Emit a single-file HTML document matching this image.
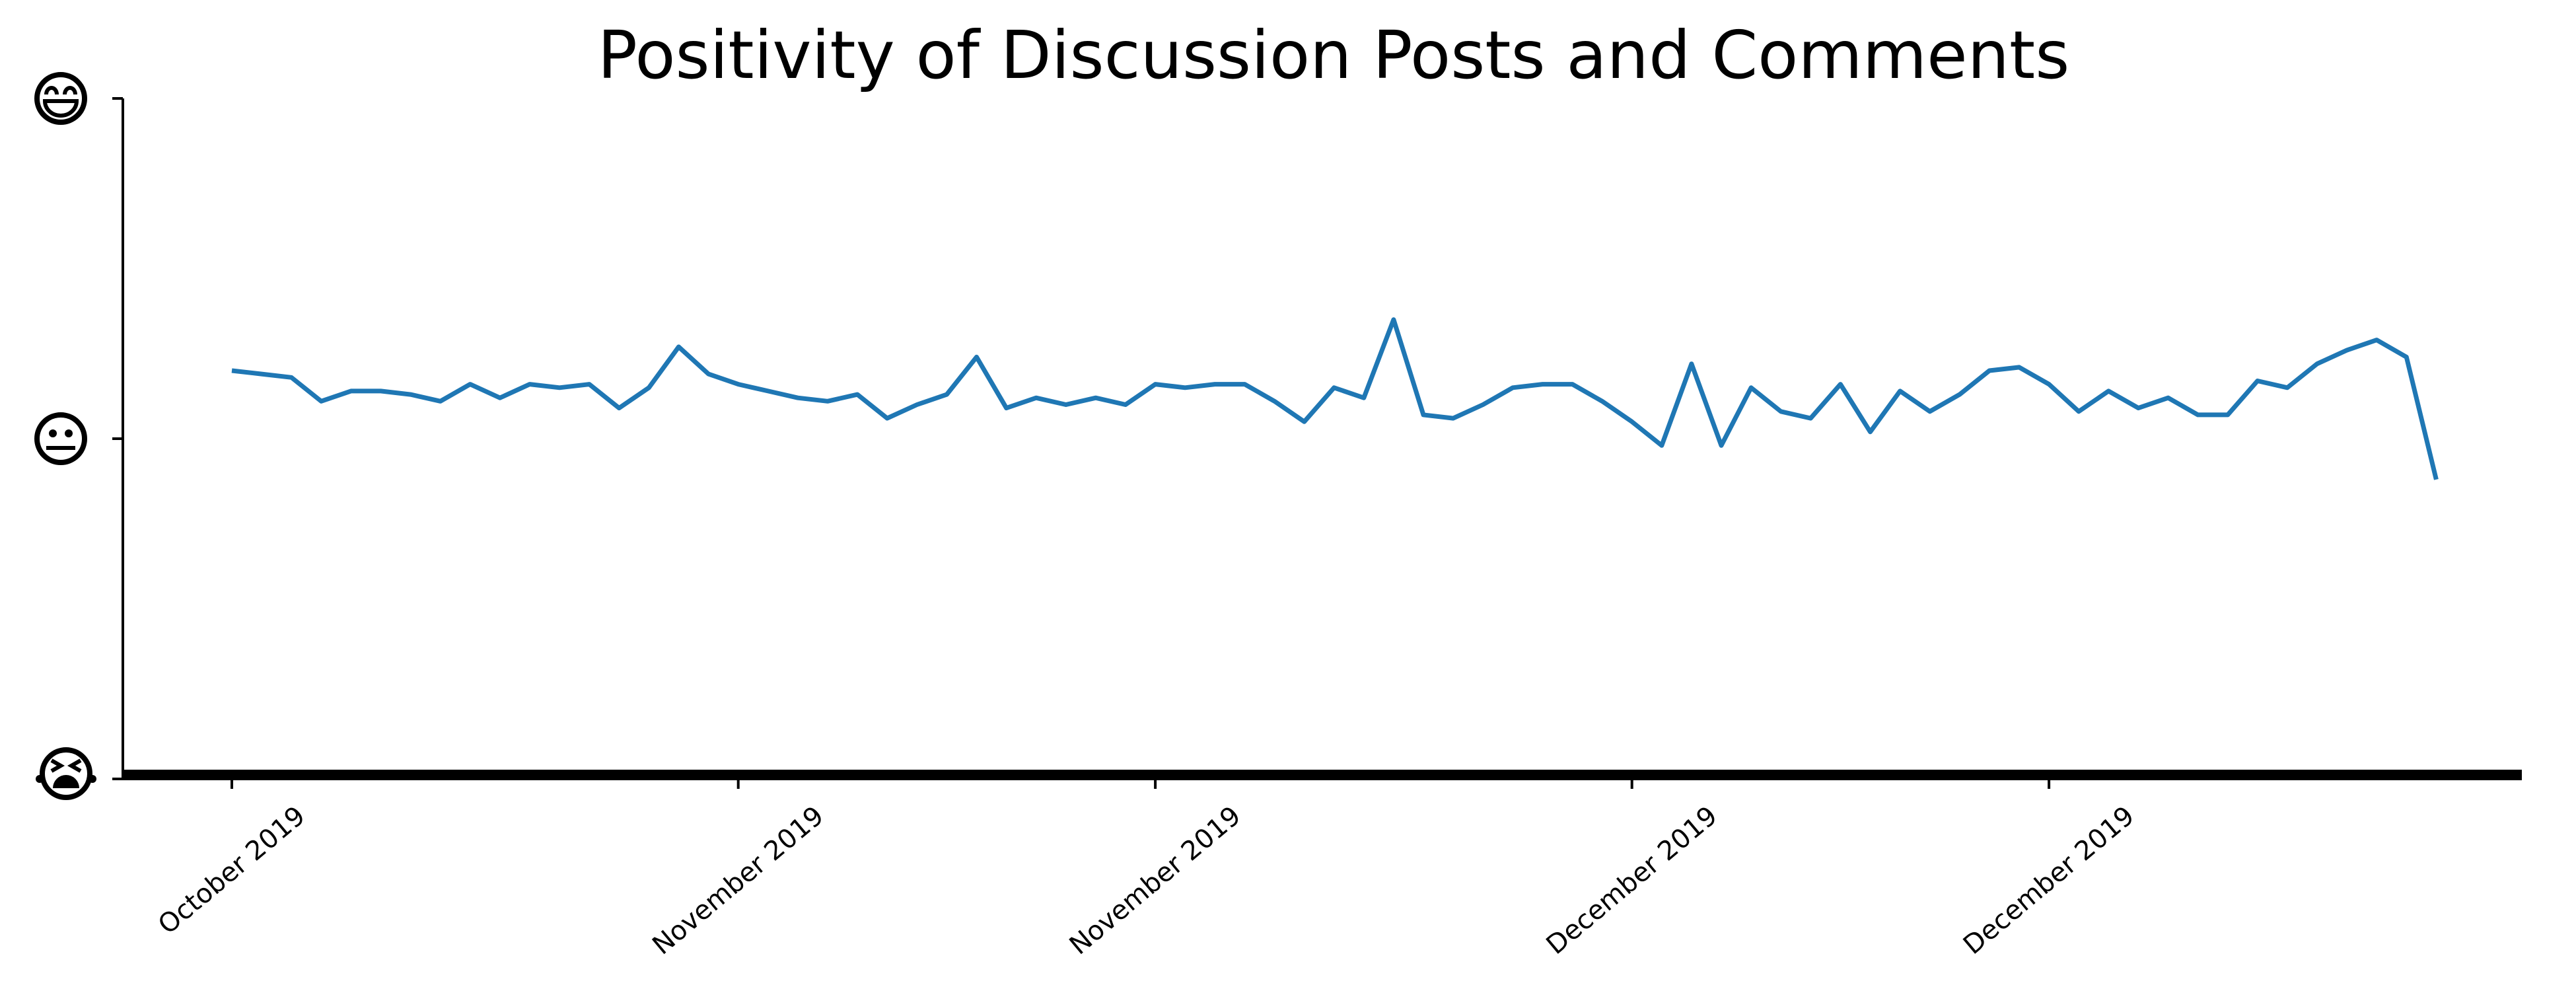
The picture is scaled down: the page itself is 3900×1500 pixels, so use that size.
<!DOCTYPE html>
<html><head><meta charset="utf-8"><style>
html,body{margin:0;padding:0;background:#fff;}
svg{display:block;font-family:"DejaVu Sans","Liberation Sans",sans-serif;}
</style></head><body>
<svg id="chart" width="3900" height="1500" viewBox="0 0 3900 1500" xmlns="http://www.w3.org/2000/svg">
<rect width="3900" height="1500" fill="#fff"/>
<text x="2019" y="118" font-size="100" text-anchor="middle" fill="#000">Positivity of Discussion Posts and Comments</text>
<g id="plot"></g>
</svg>
<script>
const values = [0.20,0.19,0.18,0.11,0.14,0.14,0.13,0.11,0.16,0.12,0.16,0.15,0.16,0.09,0.15,0.27,0.19,0.16,0.14,0.12,0.11,0.13,0.06,0.10,0.13,0.24,0.09,0.12,0.10,0.12,0.10,0.16,0.15,0.16,0.16,0.11,0.05,0.15,0.12,0.35,0.07,0.06,0.10,0.15,0.16,0.16,0.11,0.05,-0.02,0.22,-0.02,0.15,0.08,0.06,0.16,0.02,0.14,0.08,0.13,0.20,0.21,0.16,0.08,0.14,0.09,0.12,0.07,0.07,0.17,0.15,0.22,0.26,0.29,0.24,-0.12];
const tickIndex = [0,17,31,47,61];
const tickLabels = ["October 2019","November 2019","November 2019","December 2019","December 2019"];
const yTicks = [1,0,-1];
const yTickNames = ["happy-emoji-label","neutral-emoji-label","sad-emoji-label"];

const NS="http://www.w3.org/2000/svg";
const g=document.getElementById('plot');
const X0=351, DX=45.1, YT=149, YB=1179;
function xs(i){return X0+i*DX;}
function ys(v){return YB-(v+1)/2*(YB-YT);}
function mk(t,a,p){const e=document.createElementNS(NS,t);for(const k in a)e.setAttribute(k,a[k]);(p||g).appendChild(e);return e;}

const ysp=mk('line',{x1:186,y1:YT,x2:186,y2:YB+2,stroke:'#000','stroke-width':4});


yTicks.forEach((v,k)=>{
  const t=mk('line',{x1:170,y1:ys(v),x2:186,y2:ys(v),stroke:'#000','stroke-width':4});
  
  
});
function face(cx,cy,kind,name){
  const fg=mk('g',{});
  
  
  mk('circle',{cx:cx,cy:cy,r:36,fill:'#fff',stroke:'#000','stroke-width':8},fg);
  if(kind==='happy'){
    mk('path',{d:`M${cx-22} ${cy-6} a8 10 0 0 1 16 0 M${cx+6} ${cy-6} a8 10 0 0 1 16 0`,fill:'none',stroke:'#000','stroke-width':6},fg);
    mk('path',{d:`M${cx-24} ${cy+4} L${cx+24} ${cy+4} A24 22 0 0 1 ${cx-24} ${cy+4} Z`,fill:'#fff',stroke:'#000','stroke-width':6},fg);
  }else if(kind==='neutral'){
    mk('circle',{cx:cx-12,cy:cy-8,r:6,fill:'#000'},fg);
    mk('circle',{cx:cx+12,cy:cy-8,r:6,fill:'#000'},fg);
    mk('line',{x1:cx-22,y1:cy+14,x2:cx+22,y2:cy+14,stroke:'#000','stroke-width':6},fg);
  }else{
    mk('path',{d:`M${cx-22} ${cy-20} L${cx-8} ${cy-12} L${cx-22} ${cy-4} M${cx+22} ${cy-20} L${cx+8} ${cy-12} L${cx+22} ${cy-4}`,fill:'none',stroke:'#000','stroke-width':6},fg);
    mk('path',{d:`M${cx-20} ${cy+22} A20 20 0 0 1 ${cx+20} ${cy+22} Z`,fill:'#000'},fg);
    mk('circle',{cx:cx-40,cy:cy+8,r:6,fill:'#000'},fg);
    mk('circle',{cx:cx+40,cy:cy+8,r:6,fill:'#000'},fg);
  }
}
face(92,ys(1),'happy',yTickNames[0]);
face(92,ys(0),'neutral',yTickNames[1]);
face(100,ys(-1)-8,'sad',yTickNames[2]);

const base=mk('line',{x1:184,y1:1173,x2:3818,y2:1173,stroke:'#000','stroke-width':16});


tickIndex.forEach((idx,k)=>{
  const x=xs(idx);
  const t=mk('line',{x1:x,y1:1178,x2:x,y2:1194,stroke:'#000','stroke-width':4});
  
  
  const tx=mk('text',{x:0,y:0,'font-size':40,'text-anchor':'middle','dominant-baseline':'central',fill:'#000'});
  tx.textContent=tickLabels[k];
  
  
  const L=tx.getComputedTextLength(), h=40;
  const s=Math.sin(40*Math.PI/180), c=Math.cos(40*Math.PI/180);
  const yc=1214+(L*s+h*c)/2;
  tx.setAttribute('transform',`translate(${x},${yc}) rotate(-40)`);
});
const pts=values.map((v,i)=>xs(i).toFixed(1)+','+ys(v).toFixed(1)).join(' ');
const pl=mk('polyline',{points:pts,fill:'none',stroke:'#1f77b4','stroke-width':7,'stroke-linejoin':'round'});


</script>
</body></html>
